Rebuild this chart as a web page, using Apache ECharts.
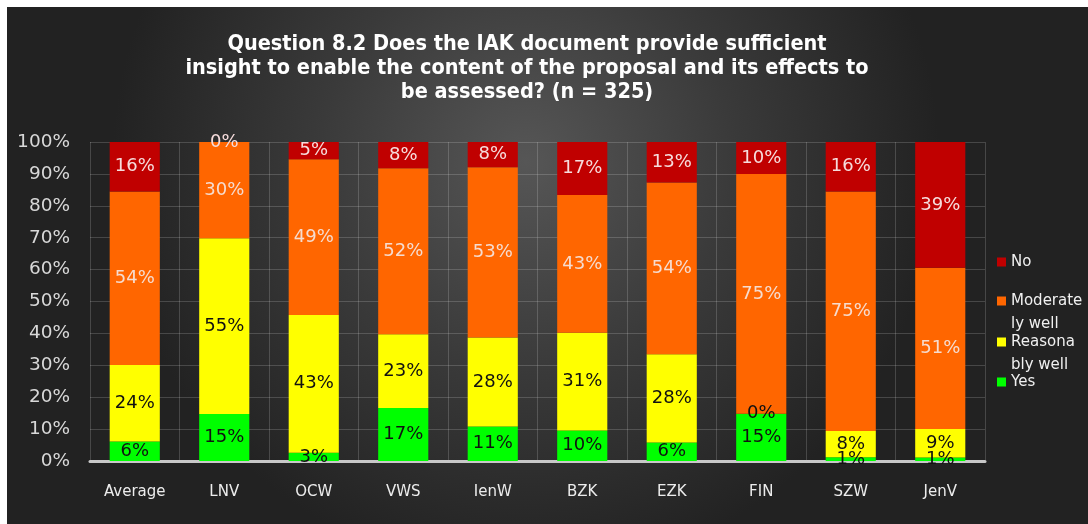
<!DOCTYPE html>
<html>
<head>
<meta charset="utf-8">
<script src="https://cdn.jsdelivr.net/npm/echarts@6/dist/echarts.min.js"></script>
<style>
  html, body { margin: 0; padding: 0; background: #ffffff; width: 1088px; height: 524px; overflow: hidden; }
  #chart { position: absolute; left: 7px; top: 7px; width: 1081px; height: 517px; }
</style>
</head>
<body>
<div id="chart"></div>
<script>
// ---- data (percentages) ----
const categories = ['Average', 'LNV', 'OCW', 'VWS', 'IenW', 'BZK', 'EZK', 'FIN', 'SZW', 'JenV'];
const yesValues        = [6.1, 14.7, 2.6, 16.6, 10.8, 9.6, 5.8, 14.8, 1.2, 1.1];
const reasonablyValues = [24.0, 55.1, 43.2, 23.1, 27.9, 30.6, 27.7, 0, 8.2, 8.9];
const moderatelyValues = [54.4, 30.2, 48.8, 52.1, 53.4, 43.2, 53.8, 75.2, 75.1, 50.6];
const noValues         = [15.5, 0, 5.4, 8.2, 7.9, 16.6, 12.7, 10.0, 15.5, 39.4];
const seriesNames = ['Yes', 'Reasonably well', 'Moderately well', 'No'];
const legendLabels = { 'No': 'No', 'Moderately well': ' \nModerate\nly well', 'Reasonably well': ' \nReasona\nbly well', 'Yes': 'Yes' };
const titleText = 'Question 8.2 Does the IAK document provide sufficient\ninsight to enable the content of the proposal and its effects to\nbe assessed? (n = 325)';

const FONT = '"DejaVu Sans", Verdana, sans-serif';
const colors = { 'Yes': '#00ff00', 'Reasonably well': '#ffff00', 'Moderately well': '#ff6600', 'No': '#c00000' };
const labelColors = { 'Yes': '#111111', 'Reasonably well': '#111111', 'Moderately well': '#f6dccf', 'No': '#f6dcdc' };
const valuesByName = { 'Yes': yesValues, 'Reasonably well': reasonablyValues, 'Moderately well': moderatelyValues, 'No': noValues };

const chart = echarts.init(document.getElementById('chart'), null, { renderer: 'canvas' });

function legendFor(name, top) {
  return {
    data: [{ name: name }],
    left: 990,
    top: top,
    padding: 0,
    itemWidth: 9,
    itemHeight: 9,
    icon: 'rect',
    selectedMode: false,
    formatter: () => legendLabels[name],
    textStyle: {
      color: '#f0f0f0',
      fontSize: 15,
      fontFamily: FONT,
      lineHeight: 23
    }
  };
}

const option = {
  backgroundColor: {
    type: 'radial', x: 0.48, y: 0.3, r: 0.8,
    colorStops: [
      { offset: 0, color: '#565656' },
      { offset: 0.5, color: '#3a3a3a' },
      { offset: 1, color: '#222222' }
    ]
  },
  animation: false,
  title: {
    text: titleText,
    left: 520,
    textAlign: 'center',
    top: 25,
    padding: 0,
    textStyle: {
      color: '#ffffff',
      fontSize: 21.5,
      fontWeight: 'bold',
      fontFamily: '"DejaVu Sans Condensed", "DejaVu Sans", sans-serif',
      lineHeight: 24
    }
  },
  legend: [
    legendFor('No', 243.5),
    legendFor('Moderately well', 259.5),
    legendFor('Reasonably well', 300.5),
    legendFor('Yes', 363.5)
  ],
  grid: { left: 83, right: 103, top: 135, bottom: 63, containLabel: false },
  xAxis: {
    type: 'category',
    data: categories,
    axisLine: { show: true, lineStyle: { color: '#c8c8c8', width: 3 } },
    axisTick: { show: false },
    splitLine: { show: true, lineStyle: { color: 'rgba(255,255,255,0.17)', width: 1 } },
    axisLabel: { color: '#ececec', fontSize: 15, fontFamily: FONT, margin: 24 }
  },
  yAxis: {
    type: 'value',
    min: 0, max: 100, interval: 10,
    axisLine: { show: false },
    axisTick: { show: false },
    splitLine: { show: true, lineStyle: { color: 'rgba(255,255,255,0.17)', width: 1 } },
    axisLabel: { color: '#d8d8d8', fontSize: 18.5, fontFamily: FONT, margin: 20, formatter: '{value}%' }
  },
  series: seriesNames.map(name => ({
    name: name,
    type: 'bar',
    stack: 'total',
    barWidth: '56%',
    data: valuesByName[name],
    itemStyle: { color: colors[name] },
    label: {
      show: true,
      position: 'inside',
      color: labelColors[name],
      fontSize: 18,
      fontFamily: FONT,
      formatter: p => Math.round(p.value) + '%'
    }
  }))
};

chart.setOption(option);
</script>
</body>
</html>
